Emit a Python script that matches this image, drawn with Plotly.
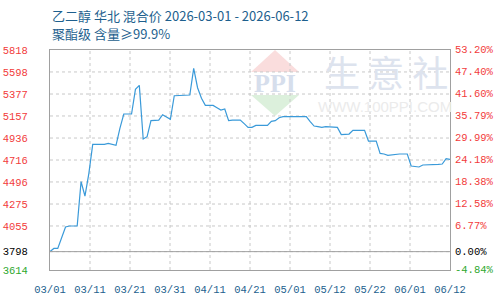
import pandas as pd
import plotly.graph_objects as go

# ---------------- data ----------------
start_date = "2026-03-01"
end_date = "2026-06-12"
dates = pd.date_range(start_date, end_date, freq="D")

prices = [
    3798, 3830, 3830, 3947, 4045, 4055, 4055, 4055, 4499, 4355,
    4580, 4873, 4873, 4873, 4873, 4883, 4876, 4863, 5033, 5177,
    5177, 5177, 5424, 5464, 4926, 4950, 5110, 5116, 5116, 5170,
    5143, 5123, 5360, 5360, 5360, 5360, 5367, 5634, 5440, 5334,
    5263, 5263, 5263, 5240, 5217, 5227, 5110, 5116, 5116, 5116,
    5080, 5043, 5043, 5063, 5063, 5063, 5063, 5103, 5110, 5140,
    5150, 5150, 5150, 5150, 5150, 5150, 5150, 5100, 5056, 5050,
    5043, 5050, 5050, 5050, 5043, 4970, 4973, 4976, 5013, 5013,
    5013, 5013, 4906, 4906, 4906, 4782, 4776, 4762, 4769, 4776,
    4776, 4776, 4776, 4656, 4649, 4646, 4666, 4666, 4669, 4672,
    4672, 4676, 4729, 4722,
]

base_price = 3798
y_ticks = [3614, 3798, 4055, 4275, 4496, 4716, 4936, 5157, 5377, 5598, 5818]
pct_labels = ["-4.84%", "0.00%", "6.77%", "12.58%", "18.38%", "24.18%",
              "29.99%", "35.79%", "41.60%", "47.40%", "53.20%"]
x_labels = ["03/01", "03/11", "03/21", "03/31", "04/11", "04/21",
            "05/01", "05/12", "05/22", "06/01", "06/12"]

title_line1 = "乙二醇 华北 混合价 2026-03-01 - 2026-06-12"
title_line2 = "聚酯级 含量≥99.9%"

# ---------------- styling helpers ----------------
RED = "#f23b3b"
GREEN = "#2ea82e"
BLACK = "#000000"
BLUE_TXT = "#1d5f8e"
GRID = "#c8c8c8"
FRAME = "#a0a0a0"
CLEAR = "rgba(0,0,0,0)"


def colour_for(v):
    if v > base_price:
        return RED
    if v == base_price:
        return BLACK
    return GREEN


left_text = [f'<span style="color:{colour_for(v)}">{v}</span>' for v in y_ticks]

n_int = len(x_labels) - 1
total_days = (pd.Timestamp(end_date) - pd.Timestamp(start_date)).days
x_tickvals = [pd.Timestamp(start_date) + pd.Timedelta(days=total_days * k / n_int) for k in range(len(x_labels))]

fig = go.Figure()

# dashed grid (drawn as line traces beneath the price line)
gx, gy = [], []
for xv in x_tickvals[1:-1]:
    gx += [xv, xv, None]
    gy += [y_ticks[0], y_ticks[-1], None]
fig.add_trace(go.Scatter(x=gx, y=gy, mode="lines", line=dict(color=GRID, width=1, dash="3px,3px"),
                         hoverinfo="skip", showlegend=False))
hx, hy = [], []
for yv in y_ticks[1:-1]:
    hx += [pd.Timestamp(start_date), pd.Timestamp(end_date), None]
    hy += [yv, yv, None]
fig.add_trace(go.Scatter(x=hx, y=hy, mode="lines", line=dict(color=GRID, width=1, dash="3px,3px"),
                         hoverinfo="skip", showlegend=False))

fig.add_trace(go.Scatter(x=dates, y=prices, mode="lines",
                         line=dict(color="#3a9ad9", width=1.2),
                         hoverinfo="skip", showlegend=False))

tick_font = dict(family="Liberation Mono", size=10.5)

fig.update_layout(
    width=500, height=300,
    margin=dict(l=50, r=50, t=50, b=30, autoexpand=False),
    paper_bgcolor="white", plot_bgcolor="white",
    xaxis=dict(type="date", range=[start_date, end_date], tickvals=x_tickvals, ticktext=x_labels,
               tickfont=dict(color=BLUE_TXT, **tick_font),
               ticks="outside", ticklen=9, tickcolor=CLEAR, automargin=False,
               showgrid=False, zeroline=False,
               showline=True, linecolor=FRAME, linewidth=1, mirror=True),
    yaxis=dict(range=[y_ticks[0], y_ticks[-1]], tickvals=y_ticks, ticktext=left_text,
               tickfont=tick_font, ticks="outside", ticklen=19, tickcolor=CLEAR, automargin=False,
               showgrid=False, zeroline=False,
               showline=True, linecolor=FRAME, linewidth=1, mirror=True),
)

# right-hand percentage scale (relative to base price)
for v, t in zip(y_ticks, pct_labels):
    fig.add_annotation(text=t, xref="paper", yref="y", x=1, y=v, xanchor="left", yanchor="middle",
                       xshift=3, showarrow=False,
                       font=dict(color=colour_for(v), **tick_font))

# base-price reference line
fig.add_shape(type="line", xref="paper", x0=0, x1=1, yref="y", y0=base_price, y1=base_price,
              line=dict(color=FRAME, width=1))

# watermark logo (PPI diamond)
fig.add_shape(type="path", xref="paper", yref="paper", layer="below",
              path="M 0.5625 1 L 0.5025 0.9 L 0.6225 0.9 Z",
              fillcolor="#fadddd", line=dict(width=0))
fig.add_shape(type="path", xref="paper", yref="paper", layer="below",
              path="M 0.5025 0.795 L 0.6225 0.795 L 0.5625 0.70 Z",
              fillcolor="#dcf0dc", line=dict(width=0))
fig.add_annotation(text="<b>PPI</b>", xref="paper", yref="paper", x=0.5625, y=0.85,
                   xanchor="center", yanchor="middle",
                   showarrow=False, font=dict(family="Liberation Serif", size=26, color="#d6deec"))
fig.add_annotation(text="生 意 社", xref="paper", yref="paper", x=0.84, y=0.905,
                   xanchor="center", yanchor="middle",
                   showarrow=False, font=dict(family="Noto Sans CJK SC", size=36, color="#dde3ee"))
fig.add_annotation(text="WWW.100PPI.COM", xref="paper", yref="paper", x=0.8375, y=0.743,
                   xanchor="center", yanchor="middle",
                   showarrow=False, font=dict(family="Liberation Sans", size=15, color="#ebebeb"))

# titles
fig.add_annotation(text=title_line1, xref="paper", yref="paper", x=0, y=1.159,
                   xanchor="left", yanchor="middle", showarrow=False,
                   font=dict(family="Noto Sans CJK SC", size=13, color=BLUE_TXT))
fig.add_annotation(text=title_line2, xref="paper", yref="paper", x=0, y=1.073,
                   xanchor="left", yanchor="middle", showarrow=False,
                   font=dict(family="Noto Sans CJK SC", size=13, color=BLUE_TXT))

fig.write_html("out.html")
